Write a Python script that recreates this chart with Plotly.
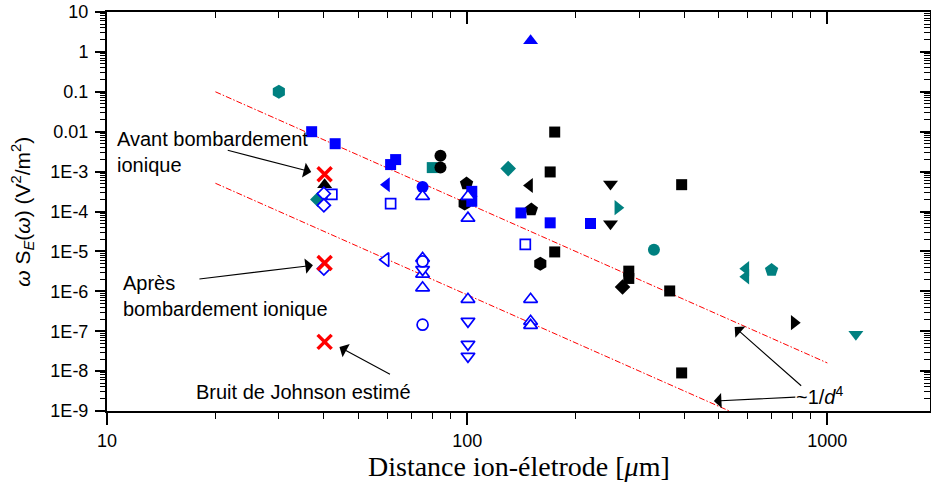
import numpy as np
import plotly.graph_objects as go

BLUE = "#0000FF"
TEAL = "#008080"
BLACK = "#000000"
RED = "#FF0000"

# ---- measurements: distance (µm) and omega*S_E (V^2/m^2) per marker family ----
blue_square_x = [37, 43, 61.3, 63.3, 103, 103, 141, 170, 220]
blue_square_y = [1.0e-2, 5.0e-3, 1.5e-3, 2.0e-3, 3.2e-4, 1.8e-4, 9.2e-5, 5.2e-5, 5.0e-5]
blue_triup_x = [150]
blue_triup_y = [1.9]
blue_trileft_x = [59.7]
blue_trileft_y = [4.7e-4]
blue_circle_x = [75.2]
blue_circle_y = [4.1e-4]

open_square_x = [42.1, 61.3, 145]
open_square_y = [2.7e-4, 1.58e-4, 1.5e-5]
open_diamond_x = [40, 40, 40]
open_diamond_y = [2.8e-4, 1.43e-4, 3.7e-6]
open_trileft_x = [59.4]
open_trileft_y = [6.2e-6]
open_triup_x = [75.2, 100.5, 100.5, 75.2, 75.2, 75.2, 100.5, 150, 150, 150]
open_triup_y = [2.4e-4, 2.4e-4, 6.8e-5, 6.7e-6, 2.7e-6, 1.22e-6, 6.3e-7, 6.3e-7, 1.77e-7, 1.4e-7]
open_tridown_x = [75.2, 100.5, 100.5, 100.5]
open_tridown_y = [3.5e-6, 1.77e-7, 4.7e-8, 2.35e-8]
open_circle_x = [75.2, 75.2]
open_circle_y = [5.6e-6, 1.46e-7]

black_square_x = [175, 170, 394, 175, 281, 281, 365, 394]
black_square_y = [9.8e-3, 9.8e-4, 4.7e-4, 9.7e-6, 3.2e-6, 2.1e-6, 1.02e-6, 9e-9]
black_circle_x = [84.3, 84.3]
black_circle_y = [2.5e-3, 1.26e-3]
black_triup_x = [40.2]
black_triup_y = [4.7e-4]
black_trileft_x = [149]
black_trileft_y = [4.5e-4]
black_tridown_x = [250, 250]
black_tridown_y = [4.9e-4, 4.9e-5]
black_triright_x = [809]
black_triright_y = [1.64e-7]
black_pentagon_x = [99.6, 150.7]
black_pentagon_y = [5.0e-4, 1.12e-4]
black_hexagon_x = [98.4, 159.6]
black_hexagon_y = [1.58e-4, 4.9e-6]
black_diamond_x = [270]
black_diamond_y = [1.28e-6]

teal_hexagon_x = [30]
teal_hexagon_y = [0.1]
teal_square_x = [80]
teal_square_y = [1.26e-3]
teal_diamond_x = [130, 38.5]
teal_diamond_y = [1.19e-3, 2.0e-4]
teal_triright_x = [262]
teal_triright_y = [1.25e-4]
teal_circle_x = [330]
teal_circle_y = [1.1e-5]
teal_trileft_x = [594, 594]
teal_trileft_y = [3.7e-6, 2.3e-6]
teal_pentagon_x = [700]
teal_pentagon_y = [3.4e-6]
teal_tridown_x = [1200]
teal_tridown_y = [8.4e-8]

# before / after ion bombardment and estimated Johnson noise
cross_x = [40.2, 40.2, 40.2]
cross_y = [8.6e-4, 5.1e-6, 5.4e-8]

# ~1/d^4 guide lines
guide_upper_x = [20, 1000]
guide_upper_y = [0.1, 1.6e-8]
guide_lower_x = [20, 560]
guide_lower_y = [5.1e-4, 8.3e-10]

# axis ticks
x_tick_vals = [10, 100, 1000]
x_tick_text = ["10", "100", "1000"]
y_tick_vals = [10.0 ** k for k in range(1, -10, -1)]
y_tick_text = ["10", "1", "0.1", "0.01", "1E-3", "1E-4", "1E-5", "1E-6", "1E-7", "1E-8", "1E-9"]

x_minor = [m * 10.0 ** e for e in range(1, 4) for m in range(2, 10)]
y_minor = [m * 10.0 ** e for e in range(-9, 1) for m in range(2, 10)]

fig = go.Figure()

# guide lines under the markers
for gx, gy in [(guide_upper_x, guide_upper_y), (guide_lower_x, guide_lower_y)]:
    fig.add_trace(go.Scatter(x=gx, y=gy, mode="lines",
                             line=dict(color=RED, width=1, dash="6px,2px,1.5px,2px"),
                             hoverinfo="skip", showlegend=False))

# transparent copy on the mirrored axes so the top/right frame is drawn
fig.add_trace(go.Scatter(x=guide_upper_x, y=guide_upper_y, xaxis="x2", yaxis="y2",
                         mode="lines", line=dict(width=0), opacity=0,
                         hoverinfo="skip", showlegend=False))


def filled(x, y, color, symbol, size):
    fig.add_trace(go.Scatter(x=x, y=y, mode="markers", showlegend=False,
                             marker=dict(color=color, symbol=symbol, size=size,
                                         line=dict(width=0))))


def hollow(x, y, color, symbol, size):
    fig.add_trace(go.Scatter(x=x, y=y, mode="markers", showlegend=False,
                             marker=dict(color="white", symbol=symbol, size=size,
                                         line=dict(color=color, width=1.7))))


filled(teal_hexagon_x, teal_hexagon_y, TEAL, "hexagon", 14)
filled(teal_square_x, teal_square_y, TEAL, "square", 11)
filled(teal_diamond_x, teal_diamond_y, TEAL, "diamond", 12)
filled(teal_triright_x, teal_triright_y, TEAL, "triangle-right", 13)
filled(teal_circle_x, teal_circle_y, TEAL, "circle", 12)
filled(teal_trileft_x, teal_trileft_y, TEAL, "triangle-left", 13)
filled(teal_pentagon_x, teal_pentagon_y, TEAL, "pentagon", 14)
filled(teal_tridown_x, teal_tridown_y, TEAL, "triangle-down", 13)

filled(black_square_x, black_square_y, BLACK, "square", 11)
filled(black_circle_x, black_circle_y, BLACK, "circle", 12)
filled(black_triup_x, black_triup_y, BLACK, "triangle-up", 13)
filled(black_trileft_x, black_trileft_y, BLACK, "triangle-left", 13)
filled(black_tridown_x, black_tridown_y, BLACK, "triangle-down", 13)
filled(black_triright_x, black_triright_y, BLACK, "triangle-right", 13)
filled(black_pentagon_x, black_pentagon_y, BLACK, "pentagon", 14)
filled(black_hexagon_x, black_hexagon_y, BLACK, "hexagon", 14)
filled(black_diamond_x, black_diamond_y, BLACK, "diamond", 12)

filled(blue_square_x, blue_square_y, BLUE, "square", 11)
filled(blue_triup_x, blue_triup_y, BLUE, "triangle-up", 13)
filled(blue_trileft_x, blue_trileft_y, BLUE, "triangle-left", 13)
filled(blue_circle_x, blue_circle_y, BLUE, "circle", 12)

hollow(open_square_x, open_square_y, BLUE, "square", 10)
hollow(open_diamond_x, open_diamond_y, BLUE, "diamond", 10)
hollow(open_trileft_x, open_trileft_y, BLUE, "triangle-left", 12)
hollow(open_triup_x, open_triup_y, BLUE, "triangle-up", 12)
hollow(open_tridown_x, open_tridown_y, BLUE, "triangle-down", 12)
hollow(open_circle_x, open_circle_y, BLUE, "circle", 11)

fig.add_trace(go.Scatter(x=cross_x, y=cross_y, mode="markers", showlegend=False,
                         marker=dict(symbol="x-thin-open", size=14, color=RED,
                                     line=dict(color=RED, width=3.5))))

TICKFONT = dict(family="Liberation Sans, Arial, sans-serif", size=18, color="black")
X_RANGE = [1, 3.285]
Y_RANGE = [-9, 1]

common_x = dict(type="log", range=X_RANGE, showgrid=False, zeroline=False,
                showline=True, linecolor="black", linewidth=2,
                tickmode="array", tickvals=x_tick_vals, ticklen=12, tickwidth=1.5,
                tickcolor="black")
common_y = dict(type="log", range=Y_RANGE, showgrid=False, zeroline=False,
                showline=True, linecolor="black", linewidth=2,
                tickmode="array", tickvals=y_tick_vals, ticklen=10, tickwidth=1.5,
                tickcolor="black")

fig.update_layout(
    width=931, height=488,
    margin=dict(l=107, r=1, t=12, b=77),
    plot_bgcolor="white", paper_bgcolor="white",
    showlegend=False,
    xaxis=dict(**common_x, ticks="outside", ticktext=x_tick_text, tickfont=TICKFONT,
               minor=dict(tickmode="array", tickvals=x_minor, ticks="outside",
                          ticklen=6, tickwidth=1, tickcolor="black", showgrid=False)),
    xaxis2=dict(**common_x, overlaying="x", side="top", anchor="y2", ticks="inside",
                showticklabels=False,
                minor=dict(tickmode="array", tickvals=x_minor, ticks="inside",
                           ticklen=6, tickwidth=1, tickcolor="black", showgrid=False)),
    yaxis=dict(**common_y, ticks="outside", ticktext=y_tick_text, tickfont=TICKFONT,
               ticklabelstandoff=3,
               minor=dict(tickmode="array", tickvals=y_minor, ticks="outside",
                          ticklen=5, tickwidth=1, tickcolor="black", showgrid=False)),
    yaxis2=dict(**common_y, overlaying="y", side="right", anchor="x2", ticks="inside",
                showticklabels=False,
                minor=dict(tickmode="array", tickvals=y_minor, ticks="inside",
                           ticklen=6, tickwidth=1, tickcolor="black", showgrid=False)),
)

LABEL_FONT = dict(family="Liberation Sans, Arial, sans-serif", size=20, color="black")
lg = np.log10

# text labels (data coordinates)
labels = [
    ("Avant bombardement<br>ionique", 10.5, 3.05e-3, "left"),
    ("Après<br>bombardement ionique", 10.95, 7.6e-7, "left"),
    ("Bruit de Johnson estimé", 35.2, 3.0e-9, "center"),
    ("~1/<i>d</i><sup>4</sup>", 953, 2.5e-9, "center"),
]
for text, lx, ly, anchor in labels:
    fig.add_annotation(x=lg(lx), y=lg(ly), xref="x", yref="y", text=text,
                       showarrow=False, xanchor=anchor, yanchor="middle",
                       align="left", font=LABEL_FONT)

# arrows: head in data coordinates, tail offset in pixels
arrows = [
    (36.9, 9.8e-4, -85, -22),
    (37.3, 4.5e-6, -115, 14),
    (44.2, 4.0e-8, 52, 28),
    (553, 1.27e-7, 68, 60),
    (484, 1.78e-9, 83, -4),
]
for hx, hy, ax, ay in arrows:
    fig.add_annotation(x=lg(hx), y=lg(hy), xref="x", yref="y", text="",
                       showarrow=True, ax=ax, ay=ay, axref="pixel", ayref="pixel",
                       arrowhead=1, arrowsize=2.3, arrowwidth=1.1, arrowcolor="black")

# axis titles
fig.add_annotation(xref="paper", yref="paper", x=-0.103, y=0.5, textangle=-90,
                   text="<i>ω</i> S<sub><i>E</i></sub>(<i>ω</i>) (V<sup>2</sup>/m<sup>2</sup>)",
                   showarrow=False, xanchor="center", yanchor="middle",
                   font=dict(family="Liberation Sans, Arial, sans-serif", size=21, color="black"))
fig.add_annotation(xref="paper", yref="paper", x=0.5, y=-0.14,
                   text="Distance ion-életrode [<i>μ</i>m]",
                   showarrow=False, xanchor="center", yanchor="middle",
                   font=dict(family="Liberation Serif, Times New Roman, serif", size=28, color="black"))

fig.write_html("out.html")
